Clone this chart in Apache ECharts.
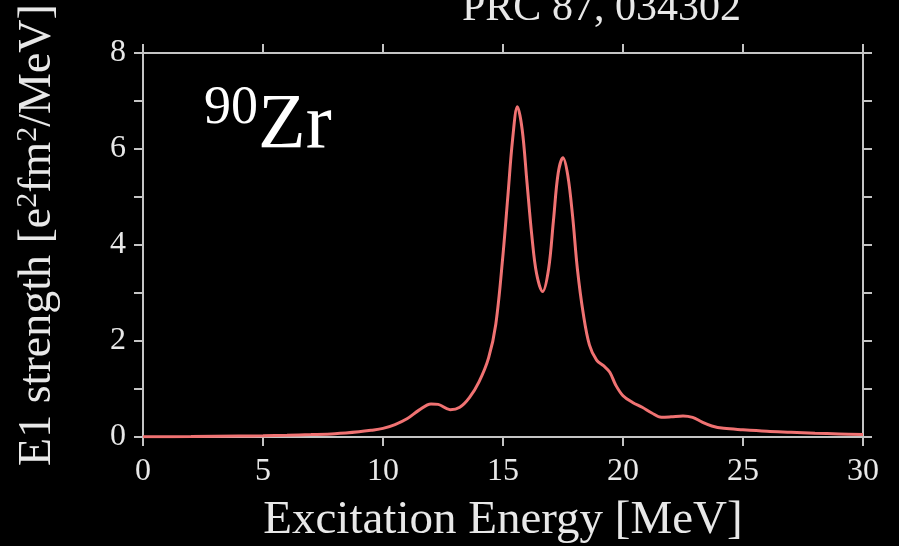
<!DOCTYPE html>
<html>
<head>
<meta charset="utf-8">
<title>90Zr E1 strength</title>
<script src="https://cdn.jsdelivr.net/npm/echarts@6/dist/echarts.min.js"></script>
<style>
  html, body { margin: 0; padding: 0; background: #000; }
  #chart { width: 899px; height: 546px; }
</style>
</head>
<body>
<div id="chart"></div>
<script>
// E1 strength distribution
const energy = [
  0, 2, 4, 5, 6, 7, 8, 9, 9.5, 10, 10.5, 11, 11.5, 12, 12.3, 12.8, 13.2, 13.6,
  14.0, 14.4, 14.7, 15.0, 15.2, 15.4, 15.6, 15.8, 16.0, 16.2, 16.4, 16.65, 16.9,
  17.1, 17.3, 17.5, 17.7, 17.9, 18.1, 18.35, 18.6, 18.9, 19.2, 19.45, 19.7, 20.0,
  20.4, 20.8, 21.2, 21.6, 22.0, 22.5, 22.9, 23.3, 23.7, 24.2, 25, 26, 27, 28, 29, 30,
];
const strength = [
  0.005, 0.01, 0.02, 0.025, 0.035, 0.05, 0.07, 0.11, 0.14, 0.18, 0.26, 0.38, 0.56,
  0.69, 0.68, 0.57, 0.62, 0.82, 1.15, 1.65, 2.35, 3.8, 5.0, 6.2, 6.88, 6.4, 5.3,
  4.2, 3.4, 3.03, 3.5, 4.5, 5.5, 5.82, 5.45, 4.6, 3.5, 2.55, 1.92, 1.6, 1.48, 1.35,
  1.08, 0.86, 0.72, 0.62, 0.5, 0.41, 0.42, 0.44, 0.41, 0.31, 0.23, 0.18, 0.15,
  0.12, 0.1, 0.08, 0.065, 0.05,
];
const xTicks = [0, 5, 10, 15, 20, 25, 30];
const yTicks = [0, 2, 4, 6, 8];

const font = "Liberation Serif";
const axisGray = "#c4c4c4";
const textColor = "#e8e8e8";

const chart = echarts.init(document.getElementById("chart"));

const baseX = {
  type: "value",
  min: xTicks[0],
  max: xTicks[xTicks.length - 1],
  interval: 5,
  axisLine: { show: true, onZero: false, lineStyle: { color: axisGray, width: 2 } },
  axisTick: { show: true, length: 9, lineStyle: { color: axisGray, width: 2 } },
  splitLine: { show: false },
};
const baseY = {
  type: "value",
  min: yTicks[0],
  max: yTicks[yTicks.length - 1],
  interval: 2,
  axisLine: { show: true, onZero: false, lineStyle: { color: axisGray, width: 2 } },
  axisTick: { show: true, length: 9, lineStyle: { color: axisGray, width: 2 } },
  minorTick: { show: true, splitNumber: 2, length: 9, lineStyle: { color: axisGray, width: 2 } },
  splitLine: { show: false },
};

chart.setOption({
  backgroundColor: "#000",
  animation: false,
  grid: { left: 143, right: 36, top: 53, bottom: 109, outerBoundsMode: "none" },
  title: {
    text: "PRC 87, 034302",
    left: 457,
    top: -17,
    textStyle: { fontFamily: font, fontSize: 42, fontWeight: "normal", color: textColor },
  },
  graphic: [
    {
      type: "text",
      left: 204,
      top: 82,
      style: {
        text: "{s|90}{z|Zr}",
        rich: {
          s: { fontFamily: font, fontSize: 54, fill: "#fff", verticalAlign: "top", lineHeight: 74 },
          z: { fontFamily: font, fontSize: 78, fill: "#fff", lineHeight: 90 },
        },
      },
    },
  ],
  xAxis: [
    {
      ...baseX,
      position: "bottom",
      name: "Excitation Energy [MeV]",
      nameLocation: "middle",
      nameGap: 60,
      nameTextStyle: { fontFamily: font, fontSize: 47, color: textColor },
      axisLabel: { fontFamily: font, fontSize: 32, color: textColor, margin: 19 },
    },
    { ...baseX, position: "top", axisLabel: { show: false } },
  ],
  yAxis: [
    {
      ...baseY,
      position: "left",
      name: "{a|E1 strength [e}{s|2}{a|fm}{s|2}{a|/MeV]}",
      nameLocation: "middle",
      nameGap: 80,
      nameTextStyle: {
        padding: [0, 0, 0, 20],
        rich: {
          a: { fontFamily: font, fontSize: 46, color: textColor, lineHeight: 50 },
          s: { fontFamily: font, fontSize: 30, color: textColor, verticalAlign: "top", lineHeight: 34 },
        },
      },
      axisLabel: { fontFamily: font, fontSize: 32, color: textColor, margin: 17 },
    },
    { ...baseY, position: "right", axisLabel: { show: false } },
  ],
  series: [
    {
      type: "line",
      data: energy.map((e, i) => [e, strength[i]]),
      smooth: 0.35,
      showSymbol: false,
      lineStyle: { color: "#f07272", width: 3 },
    },
  ],
});
</script>
</body>
</html>
